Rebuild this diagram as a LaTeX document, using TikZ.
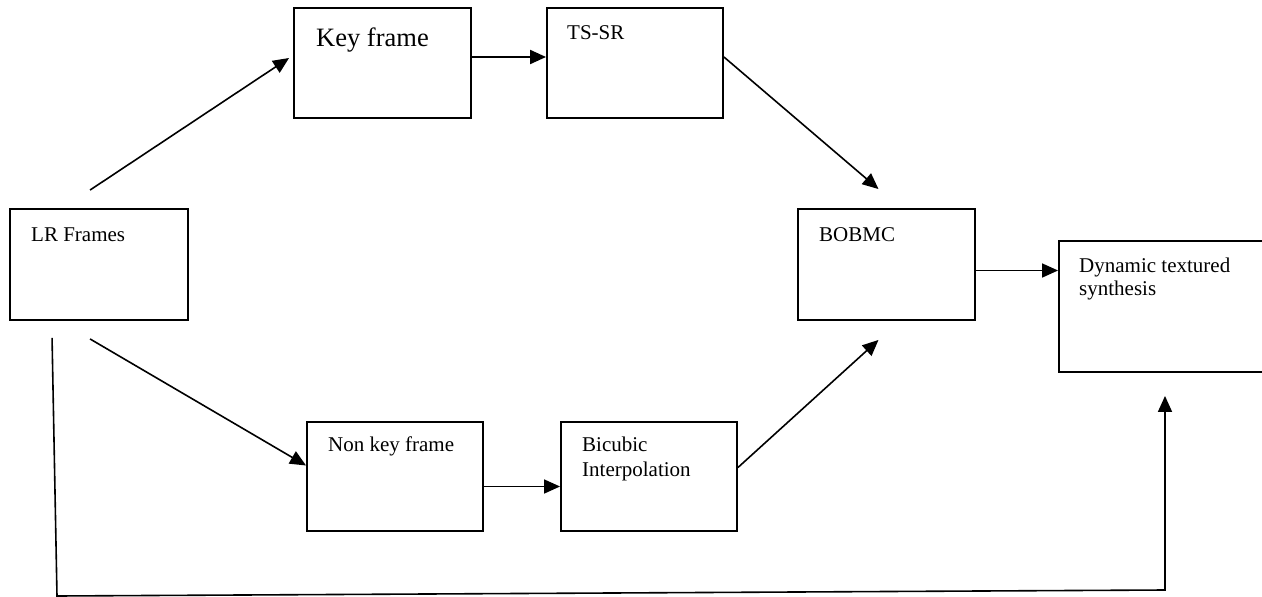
\documentclass[tikz,border=0pt]{standalone}
\usepackage{fontspec}
\setmainfont{Liberation Serif}
\usetikzlibrary{arrows.meta,calc}

\begin{document}
\begin{tikzpicture}[
    x=1pt,
    y=-1pt,
    blk/.style={draw, line width=1.9pt, inner sep=0pt},
    txt/.style={anchor=base west, inner sep=0pt, align=left, font=\fontsize{21}{23}\selectfont},
    arr/.style={-{Triangle[length=16pt,width=14pt]}, line width=1.6pt}
]
\clip (0,0) rectangle (1262,597);

% Blocks
\node[blk, minimum width=178pt, minimum height=111pt] (lr) at (99,264.5) {};
\node[blk, minimum width=177pt, minimum height=110pt] (key) at (382.5,63) {};
\node[blk, minimum width=176pt, minimum height=110pt] (tssr) at (635,63) {};
\node[blk, minimum width=177pt, minimum height=111pt] (bobmc) at (886.5,264.5) {};
\node[blk, minimum width=240pt, minimum height=131pt] (dts) at (1179,306.5) {};
\node[blk, minimum width=176pt, minimum height=109pt] (nonkey) at (395,476.5) {};
\node[blk, minimum width=176pt, minimum height=109pt] (bicubic) at (649,476.5) {};

% Block texts (base = last line)
\node[txt] (lrtxt) at (31,241) {LR Frames};
\node[txt, font=\fontsize{26.5}{30}\selectfont] (keytxt) at (316,46) {Key frame};
\node[txt] (tssrtxt) at (567,39) {TS-SR};
\node[txt] (bobmctxt) at (819,241) {BOBMC};
\node[txt] (dtstxt) at (1079,295) {Dynamic textured\\synthesis};
\node[txt] (nonkeytxt) at (328,451) {Non key frame};
\node[txt, font=\fontsize{21}{25}\selectfont] (bicubictxt) at (582,476) {Bicubic\\Interpolation};

% Free ends of the connectors
\coordinate (lrup) at ($(lr.north west)+(81,-18)$);
\coordinate (lrdown) at ($(lr.south west)+(81,18)$);
\coordinate (lrfb) at ($(lr.south west)+(43,17)$);
\coordinate (fbcorner) at (57,596);
\coordinate (fbend) at (1165,590);
\coordinate (bobout) at ($(bobmc.east)+(0,6)$);

% Upper branch
\draw[arr] (lrup) -- ($(key.west)+(-4,-5)$);
\draw[arr, line width=2pt] ($(key.east)+(0,-6)$) -- ($(tssr.west)+(0,-6)$);
\draw[arr] ($(tssr.east)+(0,-6)$) -- ($(bobmc.north)+(-8,-19)$);

% Lower branch
\draw[arr] (lrdown) -- ($(nonkey.west)+(0,-11)$);
\draw[arr] ($(nonkey.east)+(0,10)$) -- ($(bicubic.west)+(0,10)$);
\draw[arr] ($(bicubic.east)+(0,-9)$) -- ($(bobmc.south)+(-8,19)$);

% Output and feedback
\draw[arr] (bobout) -- (bobout -| dts.west);
\draw[arr] (lrfb) -- (fbcorner) -- (fbend) -- ($(fbend |- dts.south)+(0,23)$);
\end{tikzpicture}
\end{document}
